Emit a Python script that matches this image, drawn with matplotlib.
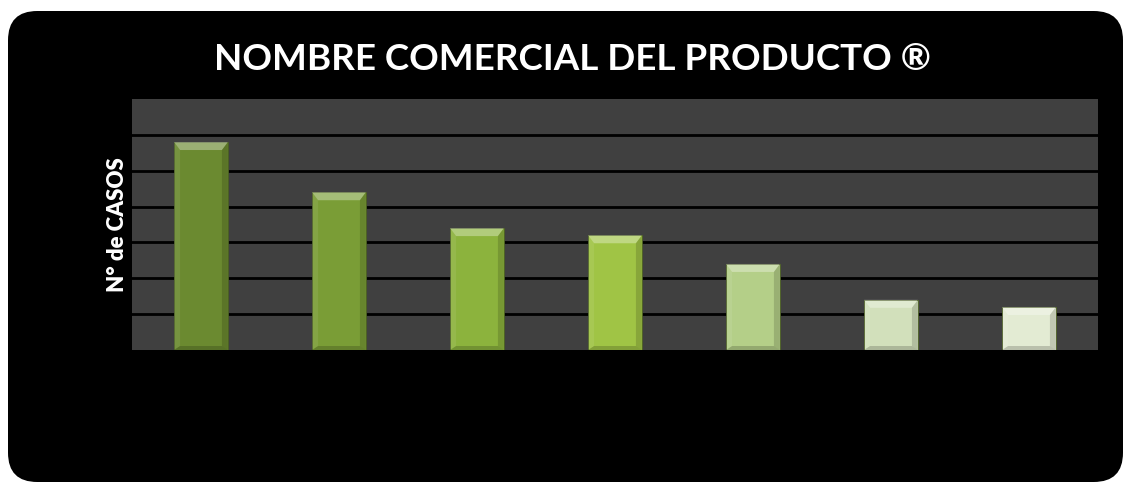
import matplotlib
matplotlib.use("Agg")
import matplotlib.pyplot as plt
from matplotlib.patches import FancyBboxPatch, Polygon

categories = ["P1", "P2", "P3", "P4", "P5", "P6", "P7"]
values = [29, 22, 17, 16, 12, 7, 6]
colors = ["#6b8a30", "#7a9d36", "#8cb33d", "#a0c445", "#b4cf88", "#d2e0bb", "#e3ebd3"]
title = "NOMBRE COMERCIAL DEL PRODUCTO ®"
ylabel = "N° de CASOS"
yticks = [0, 5, 10, 15, 20, 25, 30, 35]

W, H = 1126, 486
fig = plt.figure(figsize=(W / 100, H / 100), dpi=100, facecolor="white")

bg = FancyBboxPatch((8 / W, 4 / H), 1115 / W, 471 / H,
                    boxstyle="round,pad=0,rounding_size=0.026",
                    transform=fig.transFigure, facecolor="black", edgecolor="none",
                    mutation_aspect=W / H, zorder=-10)
fig.patches.append(bg)

ax = fig.add_axes([132 / W, 136 / H, 966 / W, 251 / H])
ax.set_zorder(5)
ax.set_facecolor("#404040")
for s in ax.spines.values():
    s.set_visible(False)
ax.set_xlim(-0.5, len(categories) - 0.5)
ax.set_ylim(yticks[0], yticks[-1])
ax.set_yticks(yticks)
ax.set_xticks(range(len(categories)))
ax.tick_params(left=False, bottom=False, labelleft=False, labelbottom=False)
for t in yticks[1:-1]:
    ax.axhline(t, color="black", lw=2, zorder=1)

bars = ax.bar(range(len(categories)), values, width=0.39, color=colors,
              edgecolor="#4a5e22", linewidth=0.6, zorder=2)

# bevel effect
px_x = (ax.get_xlim()[1] - ax.get_xlim()[0]) / 966.0
px_y = (ax.get_ylim()[1] - ax.get_ylim()[0]) / 251.0
for b in bars:
    x0, y0 = b.get_x(), b.get_y()
    x1, y1 = x0 + b.get_width(), y0 + b.get_height()
    bx, by_t, by_b = 6 * px_x, 8 * px_y, 4 * px_y
    ix0, ix1 = x0 + bx, x1 - bx
    iy0, iy1 = y0 + by_b, y1 - by_t
    top = Polygon([(x0, y1), (x1, y1), (ix1, iy1), (ix0, iy1)], closed=True,
                  facecolor="white", alpha=0.33, edgecolor="none", zorder=3)
    left = Polygon([(x0, y0), (x0, y1), (ix0, iy1), (ix0, iy0)], closed=True,
                   facecolor="white", alpha=0.08, edgecolor="none", zorder=3)
    right = Polygon([(x1, y0), (x1, y1), (ix1, iy1), (ix1, iy0)], closed=True,
                    facecolor="black", alpha=0.15, edgecolor="none", zorder=3)
    bot = Polygon([(x0, y0), (x1, y0), (ix1, iy0), (ix0, iy0)], closed=True,
                  facecolor="black", alpha=0.18, edgecolor="none", zorder=3)
    for p in (top, left, right, bot):
        ax.add_patch(p)

fig.text(572 / W, 1 - 59 / H, title, ha="center", va="center", color="white",
         fontsize=26.5, fontweight="bold", family=["Lato", "DejaVu Sans"])
fig.text(117 / W, 1 - 225 / H, ylabel, ha="center", va="center", color="white",
         fontsize=16, fontweight="heavy", rotation=90, family=["Lato", "DejaVu Sans"])

fig.savefig("out.png", dpi=100, facecolor="white")
